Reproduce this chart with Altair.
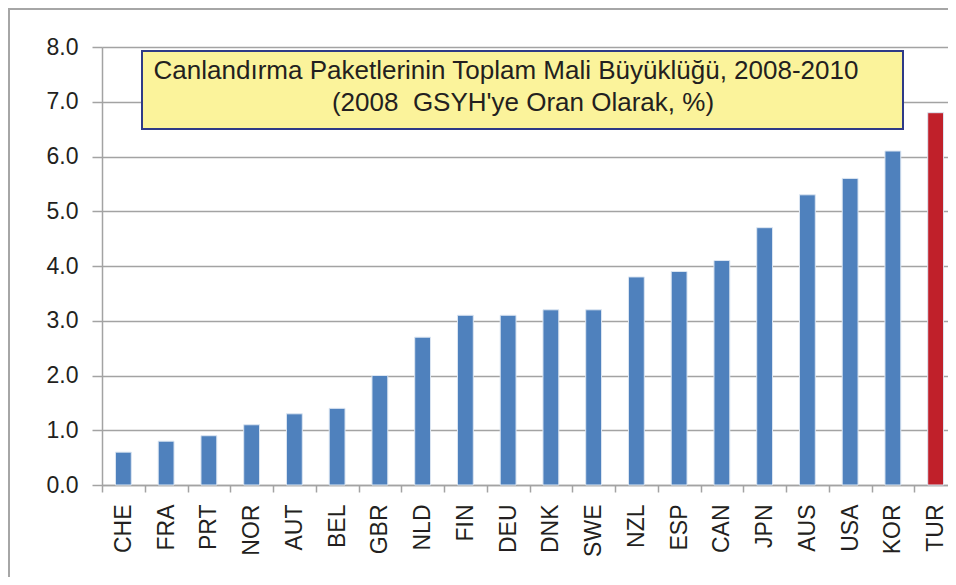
import altair as alt
import pandas as pd

countries = ["CHE", "FRA", "PRT", "NOR", "AUT", "BEL", "GBR", "NLD", "FIN", "DEU",
             "DNK", "SWE", "NZL", "ESP", "CAN", "JPN", "AUS", "USA", "KOR", "TUR"]
values = [0.6, 0.8, 0.9, 1.1, 1.3, 1.4, 2.0, 2.7, 3.1, 3.1,
          3.2, 3.2, 3.8, 3.9, 4.1, 4.7, 5.3, 5.6, 6.1, 6.8]
y_ticks = [0, 1, 2, 3, 4, 5, 6, 7, 8]
title_lines = ["Canlandırma Paketlerinin Toplam Mali Büyüklüğü, 2008-2010",
               "(2008\u00a0 GSYH'ye Oran Olarak, %)"]

df = pd.DataFrame({"country": countries, "value": values})

FONT = "Liberation Sans"
TXT = "#231f20"
GRID = "#a3a3a3"
BLUE = "#4f81bd"
RED = "#c0202a"

W, H = 846, 438

bars = alt.Chart(df).mark_bar(
    width=alt.RelativeBandSize(0.37), stroke="#dce6f2", strokeWidth=1
).encode(
    x=alt.X("country:N", sort=countries,
            scale=alt.Scale(range=[0, 855], paddingInner=0, paddingOuter=0),
            axis=alt.Axis(title=None, labelAngle=-90, labelFontSize=23, labelFont=FONT,
                          labelColor=TXT, labelPadding=12, tickSize=7, tickColor=GRID,
                          tickWidth=1.5, domainColor=GRID, domainWidth=1.5,
                          tickBand="extent", grid=False)),
    y=alt.Y("value:Q", scale=alt.Scale(domain=[0, 8], nice=False),
            axis=alt.Axis(title=None, values=y_ticks, format=".1f", labelFontSize=23,
                          labelFont=FONT, labelColor=TXT, labelPadding=14, tickSize=10,
                          tickColor=GRID, tickWidth=1.5, domainColor=GRID, domainWidth=1.5,
                          gridColor=GRID, gridWidth=1.5)),
    color=alt.condition(alt.datum.country == "TUR", alt.value(RED), alt.value(BLUE)),
)

one = pd.DataFrame({"l1": [title_lines[0]], "l2": [title_lines[1]]})

box = alt.Chart(one).mark_rect(
    fill="#fbf39b", stroke="#2e3a87", strokeWidth=2
).encode(
    x=alt.value(40), x2=alt.value(801), y=alt.value(4), y2=alt.value(82)
)

t1 = alt.Chart(one).mark_text(
    font=FONT, fontSize=26, color=TXT, align="center", baseline="alphabetic"
).encode(x=alt.value(404), y=alt.value(32), text="l1:N")

t2 = alt.Chart(one).mark_text(
    font=FONT, fontSize=26, color=TXT, align="center", baseline="alphabetic"
).encode(x=alt.value(421), y=alt.value(64), text="l2:N")

border_left = alt.Chart(one).mark_rule(color="#a6a6a6", strokeWidth=2).encode(
    x=alt.value(-93), y=alt.value(-39), y2=alt.value(H + 92)
)
border_top = alt.Chart(one).mark_rule(color="#a6a6a6", strokeWidth=2).encode(
    x=alt.value(-93), x2=alt.value(860), y=alt.value(-38)
)

chart = alt.layer(bars, box, t1, t2, border_left, border_top).properties(
    width=W, height=H,
    autosize=alt.AutoSizeParams(type="none"),
    padding={"left": 94, "top": 39, "right": 0, "bottom": 92},
).configure_view(stroke=None).configure(background="white")

chart.save("out.html", embed_options={"renderer": "svg", "actions": False})
